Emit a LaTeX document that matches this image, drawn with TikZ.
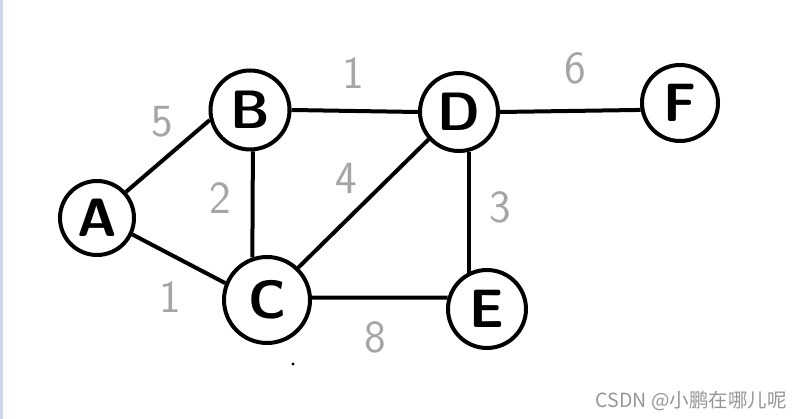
\documentclass[tikz,border=0pt]{standalone}
\usepackage{fontspec}
\newfontfamily\cjk{Noto Sans CJK SC}
\usepackage{tikz}
\usetikzlibrary{positioning,calc}
\usepackage{xcolor}
\definecolor{penblack}{RGB}{0,0,0}
\definecolor{pencilgray}{RGB}{165,165,165}
\definecolor{markgray}{RGB}{150,150,150}
\definecolor{stripblue}{RGB}{205,214,234}

\tikzset{
    vertex/.style={circle, draw=penblack, line width=4pt, fill=white, inner sep=0pt,
        font=\fontsize{54}{54}\selectfont\sffamily\bfseries},
    wedge/.style={draw=penblack, line width=4pt},
    wlabel/.style={text=pencilgray, inner sep=0pt,
        font=\fontsize{46}{46}\selectfont\sffamily}
}

\begin{document}
\begin{tikzpicture}[x=1pt, y=-1pt]
\useasboundingbox (0,0) rectangle (801,419);
\fill[white] (0,0) rectangle (801,419);
\fill[stripblue] (0,0) rectangle (3,419);

% vertices
\node[vertex, minimum size=74pt] (A) at (97,218) {A};
\node[vertex, minimum size=79pt] (B) at (250,110) {B};
\node[vertex, minimum size=86pt] (C) at (267,300) {C};
\node[vertex, minimum size=78pt] (D) at (459,112) {D};
\node[vertex, minimum size=78pt] (E) at (487,309) {E};
\node[vertex, minimum size=76pt] (F) at (680,103) {F};

% edges (hand drawn, a little off centre)
\draw[wedge] (A.42) -- (B.194);
\draw[wedge] (A.-25) -- (C.158);
\draw[wedge] (B.-86) -- (C.109);
\draw[wedge] (B.east) -- (D.west);
\draw[wedge] (C.46) -- (D.222);
\draw[wedge] (C.3) -- (E.164);
\draw[wedge] (D.-76) -- (D.-76 |- E.118);
\draw[wedge] (D.east) -- (F.190);

% weights
\node[wlabel] (wAB) at (162,122) {5};
\node[wlabel] (wBD) at (353,73) {1};
\node[wlabel] (wDF) at (575,68) {6};
\node[wlabel] (wBC) at (220,198) {2};
\node[wlabel] (wCD) at (346,178) {4};
\node[wlabel] (wDE) at (500,207) {3};
\node[wlabel] (wAC) at (170,297) {1};
\node[wlabel] (wCE) at (375,337) {8};

% stray dot
\fill[penblack] (293,364) circle (1.6pt);

% watermark
\node[anchor=east, text=markgray, inner sep=0pt, font=\fontsize{19.5}{19.5}\selectfont\cjk]
    (mark) at (787,401) {CSDN @小鹏在哪儿呢};
\end{tikzpicture}
\end{document}
